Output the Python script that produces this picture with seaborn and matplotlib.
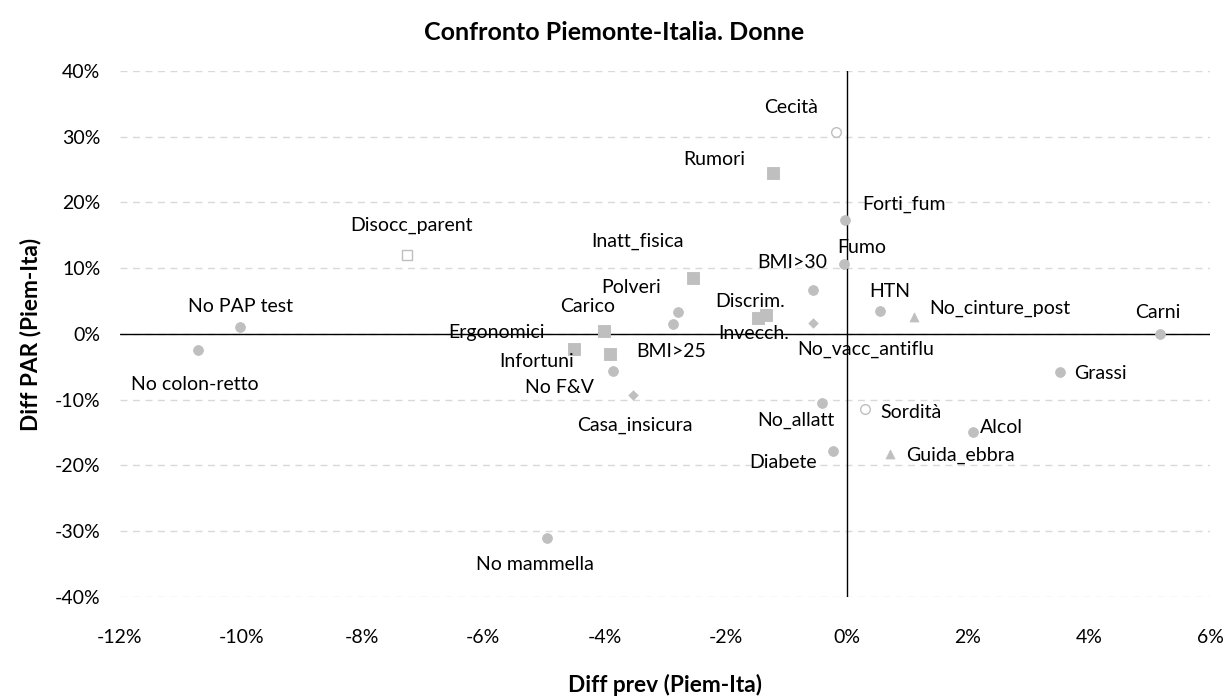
import pandas as pd
import seaborn as sns
import matplotlib.pyplot as plt
from matplotlib.ticker import FuncFormatter, MultipleLocator

# Differenze Piemonte - Italia, donne (valori in %)
fattori = [
    "No PAP test", "No colon-retto", "Disocc_parent", "Cecità", "Rumori",
    "Forti_fum", "Fumo", "BMI>30", "Inatt_fisica", "Polveri",
    "BMI>25", "Carico", "Ergonomici", "Infortuni", "No F&V",
    "Casa_insicura", "Discrim.", "Invecch.", "No_vacc_antiflu", "HTN",
    "No_cinture_post", "Carni", "Grassi", "Sordità", "Alcol",
    "Guida_ebbra", "No_allatt", "Diabete", "No mammella",
]
diff_prev = [
    -10.02, -10.71, -7.26, -0.17, -1.21,
    -0.03, -0.05, -0.55, -2.79, -2.54,
    -2.87, -4.00, -4.51, -3.91, -3.86,
    -3.53, -1.33, -1.46, -0.55, 0.55,
    1.11, 5.17, 3.52, 0.30, 2.09,
    0.71, -0.41, -0.23, -4.94,
]
diff_par = [
    1.1, -2.4, 12.0, 30.7, 24.5,
    17.3, 10.6, 6.7, 3.3, 8.5,
    1.5, 0.5, -2.3, -3.0, -5.6,
    -9.3, 2.9, 2.4, 1.7, 3.5,
    2.6, 0.0, -5.8, -11.4, -14.9,
    -18.2, -10.5, -17.8, -31.0,
]
gruppo = [
    "comp", "comp", "sociale", "sensi", "lavoro",
    "comp", "comp", "comp", "comp", "lavoro",
    "comp", "lavoro", "lavoro", "lavoro", "comp",
    "casa", "lavoro", "lavoro", "casa", "comp",
    "strada", "comp", "comp", "sensi", "comp",
    "strada", "comp", "comp", "comp",
]

# posizione delle etichette rispetto al punto (pixel)
offset_etichette = [
    (1, 20), (-3, -35), (4, 30), (-45, 25), (-59, 13),
    (59, 16), (18, 17), (-21, 27), (-40, 71), (-62, -9),
    (-2, -27), (-17, 24), (-77, 17), (-73, -8), (-53, -17),
    (2, -30), (-16, 13), (-5, -15), (52, -27), (10, 19),
    (86, 9), (-2, 21), (41, -1), (46, -4), (28, 4),
    (71, -2), (-26, -17), (-50, -11), (-13, -27),
]

df = pd.DataFrame({"fattore": fattori, "prev": diff_prev, "par": diff_par, "gruppo": gruppo})

sns.set_style("white")
plt.rcParams["font.family"] = ["Lato", "DejaVu Sans"]

grigio = "#BFBFBF"
stili = {
    "comp": dict(marker="o", s=50, color=grigio, edgecolor=grigio),
    "lavoro": dict(marker="s", s=65, color=grigio, edgecolor=grigio),
    "sociale": dict(marker="s", s=42, color="white", edgecolor=grigio, linewidth=1),
    "sensi": dict(marker="o", s=48, color="white", edgecolor=grigio, linewidth=1),
    "casa": dict(marker="D", s=24, color=grigio, edgecolor=grigio),
    "strada": dict(marker="^", s=42, color=grigio, edgecolor=grigio),
}

fig = plt.figure(figsize=(12.28, 6.98), dpi=100)
ax = fig.add_axes([0.0977, 0.1447, 0.8876, 0.7536])

for g, kw in stili.items():
    sub = df[df["gruppo"] == g]
    sns.scatterplot(data=sub, x="prev", y="par", ax=ax, legend=False, zorder=3, **kw)

for (nome, x, y), (dx, dy) in zip(df[["fattore", "prev", "par"]].values, offset_etichette):
    ax.annotate(nome, (x, y), xytext=(dx, dy), textcoords="offset pixels",
                ha="center", va="center", fontsize=14, color="black", zorder=4)

ax.set_xlim(-12, 6)
ax.set_ylim(-40, 40)
ax.xaxis.set_major_locator(MultipleLocator(2))
ax.yaxis.set_major_locator(MultipleLocator(10))
ax.xaxis.set_major_formatter(FuncFormatter(lambda v, p: f"{v:.0f}%"))
ax.yaxis.set_major_formatter(FuncFormatter(lambda v, p: f"{v:.0f}%"))
ax.tick_params(axis="both", length=0, labelsize=14, labelcolor="black")
ax.tick_params(axis="x", pad=23)
ax.tick_params(axis="y", pad=14)

ax.grid(axis="y", color="#D9D9D9", linestyle=(0, (5, 4)), linewidth=1)
ax.grid(axis="x", visible=False)
ax.set_axisbelow(True)
for sp in ax.spines.values():
    sp.set_visible(False)
ax.axhline(0, color="black", linewidth=1, zorder=2)
ax.axvline(0, color="black", linewidth=1, zorder=2)

ax.set_xlabel("Diff prev (Piem-Ita)", fontsize=16.3, fontweight="bold", labelpad=20, color="black")
ax.set_ylabel("Diff PAR (Piem-Ita)", fontsize=16.3, fontweight="bold", labelpad=10, color="black")
fig.text(0.5, 1 - 33 / 698, "Confronto Piemonte-Italia. Donne", ha="center", va="center",
         fontsize=18, fontweight="bold", color="black")

fig.savefig("out.png", dpi=100)
